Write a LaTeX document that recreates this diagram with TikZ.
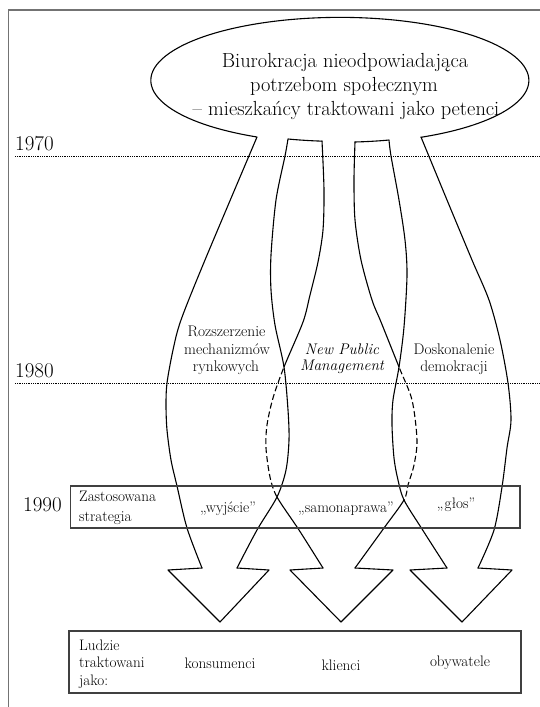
\documentclass[tikz,border=0pt]{standalone}
\usepackage{fontspec}
\begin{document}
\begin{tikzpicture}[x=1pt,y=-1pt,
  edge/.style={line width=1.1pt, line cap=round, line join=round},
  hidden/.style={edge, line cap=butt, dash pattern=on 6pt off 3pt},
  boxline/.style={line width=1.2pt, draw=black!75},
  frameline/.style={line width=1.6pt, draw=black!55},
  yearline/.style={line width=0.7pt, dash pattern=on 0.9pt off 0.9pt},
  big/.style={font=\fontsize{20.4}{24}\selectfont, inner sep=0pt, anchor=base},
  mid/.style={font=\fontsize{15.4}{17.5}\selectfont, inner sep=0pt, anchor=base},
  midit/.style={font=\fontsize{15.4}{17.5}\selectfont\itshape, inner sep=0pt, anchor=base},
  boxtxt/.style={font=\fontsize{15.2}{17.5}\selectfont, inner sep=0pt, anchor=base},
  year/.style={font=\fontsize{21}{24}\selectfont, inner sep=0pt, anchor=base west}
]
\useasboundingbox (0,0) rectangle (540,707);
\fill[white] (0,0) rectangle (540,707);

% frame
\draw[frameline] (8.3,707) -- (8.3,10) -- (540,10);

% year lines
\draw[yearline] (15,156) -- (540,156);
\draw[yearline] (15,383) -- (540,383);
\node[year] (y1970) at (15,150) {1970};
\node[year] (y1980) at (15,377) {1980};
\node[year] (y1990) at (23,511) {1990};

% outer outline: arrow 1 left edge, ellipse, arrow 3 right edge
\draw[edge] plot[smooth] coordinates {(202,568) (187,528) (177,486) (171,460) (167,430) (166,405) (167,383) (173,350) (181,320) (205,260) (257,137)}
  arc[start angle=116, end angle=424.6, x radius=189, y radius=63]
  -- plot[smooth] coordinates {(421,137) (447,200) (472,260) (489,300) (500,340) (508,383) (511,420) (507,448) (502,487) (494,530) (478,568)};

% arrow 1 right edge + small arc
\draw[edge] plot[smooth] coordinates {(237,568) (257,530) (277,497) (286,470) (289,440) (288,410) (284,367) (275,325) (271,290) (271,255) (276,200) (285,156) (288,139)}
  arc[start angle=106, end angle=95.5, x radius=189, y radius=63];

% arrow 3 left edge + small arc
\draw[edge] (355,142) arc[start angle=85.4, end angle=75, x radius=189, y radius=63]
  -- plot[smooth] coordinates {(389,140) (391,156) (399,200) (405,240) (407,275) (404,327) (399,367) (393,400) (392,425) (394,458) (398,480) (404,500) (422,529) (447,568)};

% arrow 2 edges (solid outside, dashed inside the crossing band)
\begin{scope}
  \clip (0,0) rectangle (340,367) (0,497) rectangle (340,707);
  \draw[edge] plot[smooth] coordinates {(322,141) (324,190) (323,230) (318,262) (310,295) (303,322) (284,367) (273,398) (267,425) (266,448) (270,477) (277,497) (299,530) (323,568)};
\end{scope}
\begin{scope}
  \clip (0,367) rectangle (340,497);
  \draw[hidden] plot[smooth] coordinates {(322,141) (324,190) (323,230) (318,262) (310,295) (303,322) (284,367) (273,398) (267,425) (266,448) (270,477) (277,497) (299,530) (323,568)};
\end{scope}
\begin{scope}
  \clip (340,0) rectangle (540,367) (340,500) rectangle (540,707);
  \draw[edge] plot[smooth] coordinates {(355,142) (354,180) (355,220) (361,260) (372,300) (381,322) (399,367) (412,400) (417,440) (414,465) (408,485) (404,500) (384,528) (355,568)};
\end{scope}
\begin{scope}
  \clip (340,367) rectangle (540,500);
  \draw[hidden] plot[smooth] coordinates {(355,142) (354,180) (355,220) (361,260) (372,300) (381,322) (399,367) (412,400) (417,440) (414,465) (408,485) (404,500) (384,528) (355,568)};
\end{scope}

% arrowheads
\draw[edge] (202,568) -- (168,570) -- (220,622) -- (269,570) -- (237,568);
\draw[edge] (323,568) -- (290,570) -- (341,622) -- (393,570) -- (355,568);
\draw[edge] (447,568) -- (410,570) -- (462,622) -- (512,570) -- (478,568);

% ellipse text
\node[big] (t1) at (345,67) {Biurokracja nieodpowiadająca};
\node[big] (t2) at (344,91) {potrzebom społecznym};
\node[big] (t3) at (346,115) {– mieszkańcy traktowani jako petenci};

% arrow labels
\node[mid] (r1) at (226.5,336) {Rozszerzenie};
\node[mid] (r2) at (227,354) {mechanizmów};
\node[mid] (r3) at (226,371) {rynkowych};
\node[midit] (n1) at (342,354) {New Public};
\node[midit] (n2) at (342,370.5) {Management};
\node[mid] (d1) at (454,354) {Doskonalenie};
\node[mid] (d2) at (454,371) {demokracji};

% strategy box
\draw[boxline] (70.5,486) rectangle (520,528);
\node[boxtxt, anchor=base west] (s1) at (79,501) {Zastosowana};
\node[boxtxt, anchor=base west] (s2) at (79,521) {strategia};
\node[boxtxt] (w1) at (228,512) {„wyjście”};
\node[boxtxt] (w2) at (346,512) {„samonaprawa”};
\node[boxtxt] (w3) at (456,508) {„głos”};

% people box
\draw[boxline] (69,631) rectangle (521,693);
\node[boxtxt, anchor=base west] (l1) at (79,650) {Ludzie};
\node[boxtxt, anchor=base west] (l2) at (79,667.5) {traktowani};
\node[boxtxt, anchor=base west] (l3) at (79,685) {jako:};
\node[boxtxt] (p1) at (220,668) {konsumenci};
\node[boxtxt] (p2) at (341,670) {klienci};
\node[boxtxt] (p3) at (460,666) {obywatele};
\end{tikzpicture}
\end{document}
